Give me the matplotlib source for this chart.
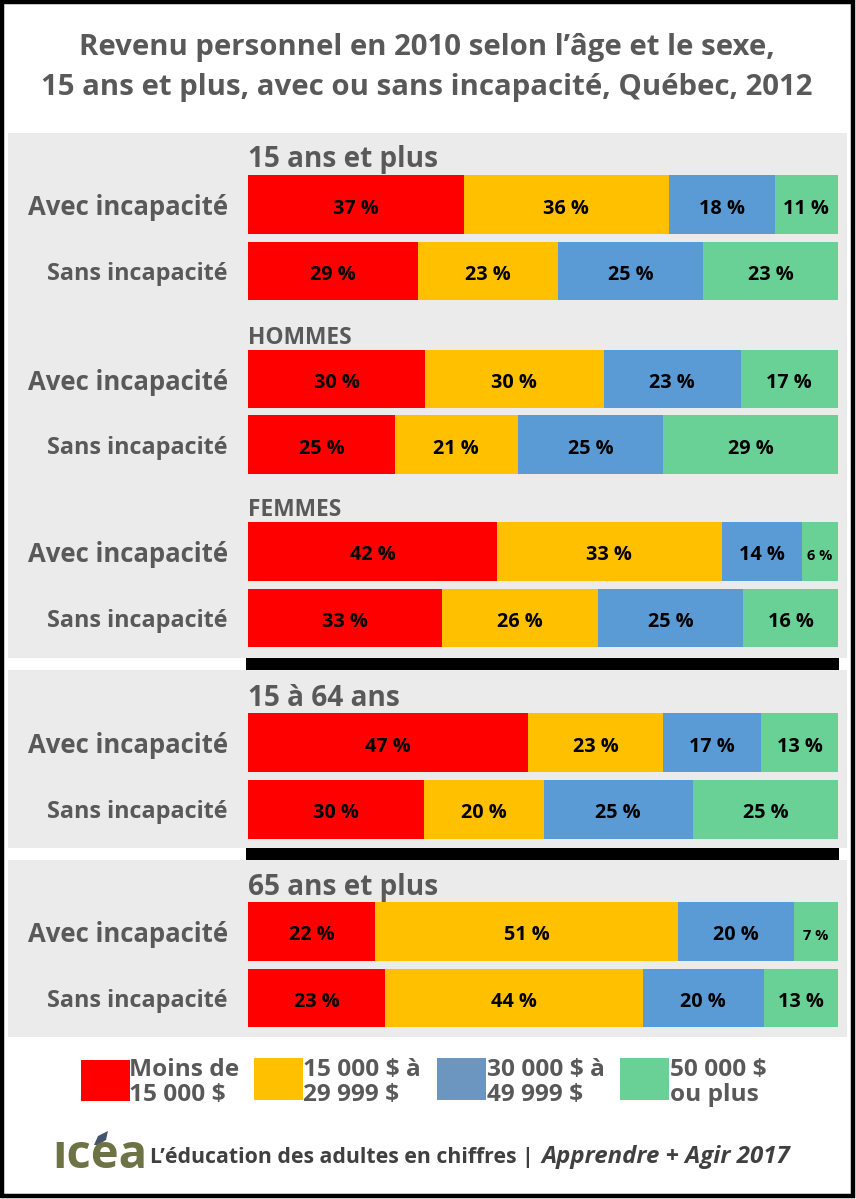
import matplotlib
matplotlib.use('Agg')
import matplotlib.pyplot as plt
from matplotlib.patches import Rectangle, Polygon

W, H = 856, 1199

row_labels = ['Avec incapacité', 'Sans incapacité'] * 5

# bar widths (the bars do not always follow their labels)
moins_15k = [36.6, 28.8, 30.0, 24.9, 42.2, 32.9, 47.5, 29.8, 21.5, 23.2]
de_15k_30k = [34.7, 23.7, 30.3, 20.8, 38.1, 26.4, 22.9, 20.3, 51.4, 43.7]
de_30k_50k = [18.0, 24.6, 23.2, 24.7, 13.6, 24.6, 16.6, 25.3, 19.7, 20.5]
plus_50k = [10.7, 22.9, 16.5, 29.6, 6.1, 16.1, 13.0, 24.6, 7.4, 12.6]

# printed labels
moins_15k_txt = [37, 29, 30, 25, 42, 33, 47, 30, 22, 23]
de_15k_30k_txt = [36, 23, 30, 21, 33, 26, 23, 20, 51, 44]
de_30k_50k_txt = [18, 25, 23, 25, 14, 25, 17, 25, 20, 20]
plus_50k_txt = [11, 23, 17, 29, 6, 16, 13, 25, 7, 13]

series = [moins_15k, de_15k_30k, de_30k_50k, plus_50k]
series_txt = [moins_15k_txt, de_15k_30k_txt, de_30k_50k_txt, plus_50k_txt]
colors = ['#FF0000', '#FFC000', '#5B9BD5', '#69D096']

legend_labels = ['Moins de\n15 000 $', '15 000 $ à\n29 999 $', '30 000 $ à\n49 999 $', '50 000 $\nou plus']
legend_colors = ['#FF0000', '#FFC000', '#6C96C0', '#69D096']

row_top = [175, 242, 350, 415, 522, 589, 713, 780, 902, 969]
row_bottom = [234, 300, 408, 474, 581, 647, 772, 839, 961, 1027]

GREY = '#595959'
plt.rcParams['font.family'] = ['Open Sans', 'DejaVu Sans']
plt.rcParams['font.weight'] = 'bold'

fig = plt.figure(figsize=(W / 100, H / 100), dpi=100, facecolor='white')

# background axes in pixel coordinates, for the page layout
bg = fig.add_axes([0, 0, 1, 1])
bg.set_xlim(0, W)
bg.set_ylim(H, 0)
bg.axis('off')

for top, bottom in [(133, 658), (670, 848), (860, 1037)]:
    bg.add_patch(Rectangle((8, top), 839, bottom - top, color='#EBEBEB', lw=0))
for top in [658, 848]:
    bg.add_patch(Rectangle((246, top), 593, 12, color='black', lw=0))
bg.add_patch(Rectangle((2, 2), W - 5, H - 5, fill=False, ec='black', lw=3.2))

bg.text(427, 48, 'Revenu personnel en 2010 selon l’âge et le sexe,', ha='center', va='center',
        fontsize=21.2, color=GREY)
bg.text(427, 87, '15 ans et plus, avec ou sans incapacité, Québec, 2012', ha='center', va='center',
        fontsize=21.2, color=GREY)

for txt, y, size in [('15 ans et plus', 159, 20.2), ('HOMMES', 338, 16.4), ('FEMMES', 510, 16.4),
                     ('15 à 64 ans', 698, 20.2), ('65 ans et plus', 887, 20.2)]:
    bg.text(248, y, txt, ha='left', va='center', fontsize=size, color=GREY)

for i, label in enumerate(row_labels):
    size = 18.5 if label.startswith('Avec') else 16.8
    bg.text(228, (row_top[i] + row_bottom[i]) / 2 + 3, label, ha='right', va='center',
            fontsize=size, color=GREY)

# bars share the 0-100 scale, y stays in pixels
ax = fig.add_axes([248 / W, 0, 590 / W, 1])
ax.set_xlim(0, 100)
ax.set_ylim(H, 0)
ax.axis('off')
ax.patch.set_alpha(0)

centers = [(t + b) / 2 for t, b in zip(row_top, row_bottom)]
heights = [b - t for t, b in zip(row_top, row_bottom)]
left = [0] * 10
for vals, txts, color in zip(series, series_txt, colors):
    ax.barh(centers, vals, height=heights, left=left, color=color, lw=0)
    for i, v in enumerate(vals):
        size = 10.5 if txts[i] < 10 else 14.3
        ax.text(left[i] + v / 2, centers[i] + 4, f'{txts[i]} %', ha='center', va='center',
                fontsize=size, color='black')
    left = [a + b for a, b in zip(left, vals)]

# legend
for x, label, color, tx, top, bottom in zip([81, 254, 437, 620], legend_labels, legend_colors,
                                            [129, 303, 487, 670],
                                            [1060, 1058, 1058, 1058], [1101, 1100, 1100, 1100]):
    bg.add_patch(Rectangle((x, top), 49, bottom - top, color=color, lw=0))
    first, second = label.split('\n')
    bg.text(tx, 1070, first, ha='left', va='center', fontsize=17.6, color=GREY)
    bg.text(tx, 1095, second, ha='left', va='center', fontsize=17.6, color=GREY)

# footer with the logo
bg.text(52, 1156, 'ıcea', ha='left', va='center', fontsize=34, color='#6E7345')
bg.add_patch(Polygon([(94, 1145), (98, 1136), (108, 1131), (106, 1140), (98, 1145)],
                     color='#44546A', lw=0))
bg.text(150, 1157, 'L’éducation des adultes en chiffres | ', ha='left', va='center',
        fontsize=15.3, color='#404040')
bg.text(541, 1157, 'Apprendre + Agir 2017', ha='left', va='center', fontsize=17.3,
        style='italic', color='#404040')

fig.savefig('out.png', dpi=100)
